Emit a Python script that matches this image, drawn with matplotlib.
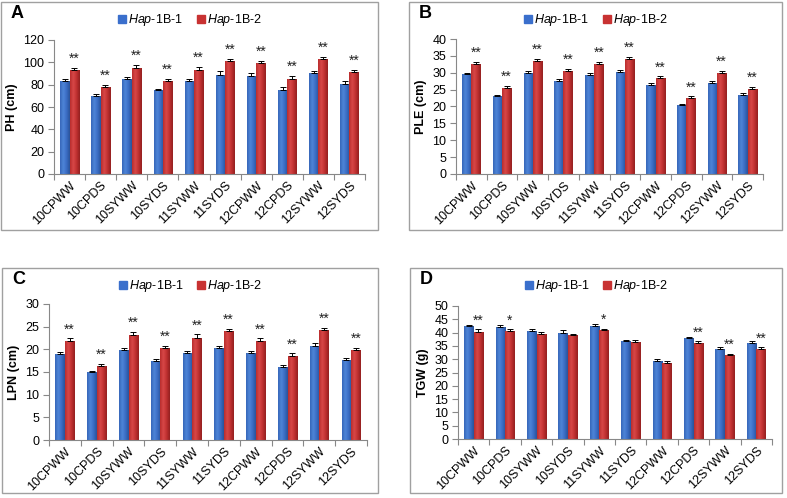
import matplotlib
matplotlib.use("Agg")
import matplotlib.pyplot as plt
import numpy as np
from matplotlib.patches import Rectangle
from matplotlib.lines import Line2D
from matplotlib.colors import LinearSegmentedColormap

plt.rcParams['font.family'] = ['Liberation Sans', 'DejaVu Sans']
plt.rcParams['mathtext.fontset'] = 'custom'
plt.rcParams['mathtext.it'] = 'Liberation Sans:italic'
plt.rcParams['mathtext.rm'] = 'Liberation Sans'

categories = ["10CPWW", "10CPDS", "10SYWW", "10SYDS", "11SYWW",
              "11SYDS", "12CPWW", "12CPDS", "12SYWW", "12SYDS"]

# Panel A: PH (cm)
ph_h1 = [83, 70, 85, 75, 83, 89, 88, 75.5, 90.5, 80.5]
ph_h2 = [93, 78, 94.5, 83, 93, 101, 99, 85.5, 103, 91]
ph_e1 = [2.2, 2, 2, 1, 2.5, 2.8, 2.2, 2, 2, 2.5]
ph_e2 = [2.2, 2, 3, 2, 2.5, 2, 2, 2, 2.2, 2]
ph_sig = ["**"] * 10

# Panel B: PLE (cm)
ple_h1 = [29.5, 23, 30, 27.5, 29.3, 30.2, 26.5, 20.3, 27, 23.5]
ple_h2 = [32.7, 25.5, 33.6, 30.5, 32.7, 34, 28.4, 22.5, 30, 25.3]
ple_e1 = [0.5, 0.5, 0.5, 0.5, 0.5, 0.6, 0.5, 0.5, 0.6, 0.4]
ple_e2 = [0.6, 0.6, 0.6, 0.7, 0.5, 0.7, 0.5, 0.5, 0.5, 0.5]
ple_sig = ["**"] * 10

# Panel C: LPN (cm)
lpn_h1 = [19, 15, 19.9, 17.4, 19.2, 20.3, 19.2, 16.2, 20.8, 17.6]
lpn_h2 = [21.9, 16.3, 23.1, 20.3, 22.6, 24, 21.9, 18.6, 24.2, 19.9]
lpn_e1 = [0.5, 0.3, 0.5, 0.4, 0.5, 0.4, 0.5, 0.4, 0.5, 0.4]
lpn_e2 = [0.5, 0.5, 0.7, 0.5, 0.7, 0.5, 0.5, 0.5, 0.5, 0.5]
lpn_sig = ["**"] * 10

# Panel D: TGW (g)
tgw_h1 = [42.3, 42, 40.5, 40, 42.5, 37, 29.3, 38, 34, 36.2]
tgw_h2 = [40.4, 40.5, 39.5, 39, 41, 36.4, 28.7, 36.1, 31.6, 33.8]
tgw_e1 = [0.7, 0.7, 0.8, 0.8, 0.8, 0.4, 0.7, 0.5, 0.7, 0.8]
tgw_e2 = [0.8, 0.7, 0.7, 0.5, 0.5, 0.7, 0.8, 0.6, 0.5, 0.6]
tgw_sig = ["**", "*", "", "", "*", "", "", "**", "**", "**"]

legend_labels = [r"$\it{Hap}$-1B-1", r"$\it{Hap}$-1B-2"]
blue = "#3a6fcc"
red = "#c83232"
blue_cmap = LinearSegmentedColormap.from_list("b", ["#3565b8", "#4f86d8", "#3a6cc4", "#2a5298"])
red_cmap = LinearSegmentedColormap.from_list("r", ["#b82c2c", "#d84848", "#c03030", "#922020"])
grad = np.linspace(0, 1, 64).reshape(1, -1)

W, H = 787, 498
fig = plt.figure(figsize=(W / 100, H / 100), dpi=100)

def fbox(x0, y0, x1, y1):
    return [x0 / W, 1 - y1 / H, (x1 - x0) / W, (y1 - y0) / H]

panels = [
    dict(letter="A", frame=(1, 2, 378, 230), ax=(54, 40, 365, 174), h1=ph_h1, h2=ph_h2,
         e1=ph_e1, e2=ph_e2, sig=ph_sig, ylabel="PH (cm)", ymax=120, step=20),
    dict(letter="B", frame=(409, 2, 782, 230), ax=(456, 39, 763, 174), h1=ple_h1, h2=ple_h2,
         e1=ple_e1, e2=ple_e2, sig=ple_sig, ylabel="PLE (cm)", ymax=40, step=5),
    dict(letter="C", frame=(2, 268, 378, 493), ax=(49, 304, 367, 440), h1=lpn_h1, h2=lpn_h2,
         e1=lpn_e1, e2=lpn_e2, sig=lpn_sig, ylabel="LPN (cm)", ymax=30, step=5),
    dict(letter="D", frame=(410, 268, 782, 493), ax=(458, 306, 772, 439), h1=tgw_h1, h2=tgw_h2,
         e1=tgw_e1, e2=tgw_e2, sig=tgw_sig, ylabel="TGW (g)", ymax=50, step=5),
]

x = np.arange(len(categories))
bw = 0.3

def shade(ax, bars, cmap):
    for b in bars:
        x0, y0 = b.get_x(), b.get_y()
        im = ax.imshow(grad, cmap=cmap, aspect="auto", interpolation="bicubic",
                       extent=(x0, x0 + b.get_width(), y0, y0 + b.get_height()),
                       zorder=2.1)
        im.set_clip_path(b)

for p in panels:
    fx0, fy0, fx1, fy1 = p["frame"]
    fig.patches.append(Rectangle((fx0 / W, 1 - fy1 / H), (fx1 - fx0) / W, (fy1 - fy0) / H,
                                 transform=fig.transFigure, fill=False,
                                 edgecolor="#a0a0a0", linewidth=1.0))
    fig.text((fx0 + 10) / W, 1 - (fy0 + 12) / H, p["letter"], fontsize=13,
             fontweight="bold", ha="left", va="center")

    ax = fig.add_axes(fbox(*p["ax"]))
    b1 = ax.bar(x - bw / 2, p["h1"], bw, color=blue, linewidth=0, zorder=2)
    b2 = ax.bar(x + bw / 2, p["h2"], bw, color=red, linewidth=0, zorder=2)
    shade(ax, b1, blue_cmap)
    shade(ax, b2, red_cmap)
    ax.errorbar(x - bw / 2, p["h1"], yerr=[np.zeros(len(x)), p["e1"]], fmt="none",
                ecolor="black", elinewidth=0.7, capsize=2.5, capthick=0.7, zorder=3)
    ax.errorbar(x + bw / 2, p["h2"], yerr=[np.zeros(len(x)), p["e2"]], fmt="none",
                ecolor="black", elinewidth=0.7, capsize=2.5, capthick=0.7, zorder=3)
    for i, s in enumerate(p["sig"]):
        if s:
            top = p["h2"][i] + p["e2"][i]
            ax.annotate(s, (x[i] + bw / 2, top), xytext=(0, 1.5), textcoords="offset points",
                        ha="center", va="bottom", fontsize=10, color="#222222")

    ax.set_xlim(-0.5, len(categories) - 0.5)
    ax.set_ylim(0, p["ymax"])
    ax.set_yticks(np.arange(0, p["ymax"] + 0.1, p["step"]))
    ax.set_xticks(np.arange(-0.5, len(categories), 1.0))
    ax.set_xticklabels([])
    ax.set_xticks(x, minor=True)
    ax.set_xticklabels(categories, minor=True, rotation=45, ha="right",
                       rotation_mode="anchor", fontsize=9)
    ax.tick_params(axis="x", which="minor", length=0, pad=4)
    ax.tick_params(axis="x", which="major", length=4, color="#888888")
    ax.tick_params(axis="y", length=4, color="#888888", labelsize=9, pad=3)
    for side in ["top", "right"]:
        ax.spines[side].set_visible(False)
    ax.spines["left"].set_color("#888888")
    ax.spines["bottom"].set_color("#888888")
    ax.set_ylabel(p["ylabel"], fontsize=9, fontweight="bold", labelpad=4)

    handles = [Line2D([0], [0], marker="s", linestyle="none", markersize=6,
                      markerfacecolor=blue, markeredgecolor=blue),
               Line2D([0], [0], marker="s", linestyle="none", markersize=6,
                      markerfacecolor=red, markeredgecolor=red)]
    cx = (fx0 + fx1) / 2 / W
    cy = 1 - (fy0 + 18) / H
    fig.legend(handles, legend_labels, loc="center", bbox_to_anchor=(cx, cy),
               ncol=2, frameon=False, fontsize=9, handletextpad=0.1,
               columnspacing=1.0, handlelength=0.8)

fig.savefig("out.png", dpi=100)
